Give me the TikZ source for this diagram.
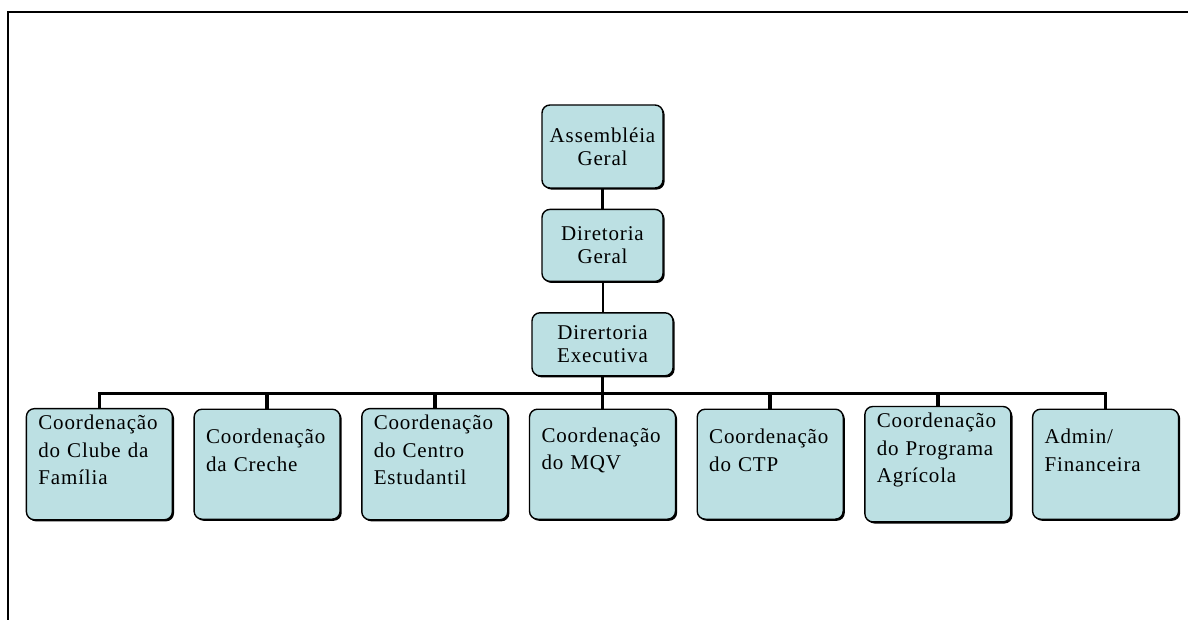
\documentclass[tikz,border=0pt]{standalone}
\usepackage{fontspec}
\setmainfont{Liberation Serif}[LetterSpace=4]
\usetikzlibrary{positioning, shadows}
\definecolor{boxfill}{RGB}{188,224,227}

\begin{document}
\begin{tikzpicture}[font=\fontsize{10.5pt}{11.5pt}\selectfont, node distance=10.15pt]
    \tikzset{orgbox/.style={draw, line width=0.7pt, fill=boxfill, rounded corners=4pt,
        drop shadow={shadow xshift=0.8pt, shadow yshift=-0.8pt, fill=black, opacity=1}},
      headbox/.style={orgbox, align=center, minimum width=60.5pt, inner xsep=2pt},
      unitbox/.style={orgbox, text width=61pt, align=left, inner xsep=6pt, minimum height=55pt,
        font=\fontsize{10.5pt}{13.75pt}\selectfont, execute at end node={\par\vspace*{14pt}}},
      link/.style={line width=1.8pt}}
    \useasboundingbox (0,0) rectangle (594pt,-310pt);
    \draw[line width=1pt] (4pt,-310pt) -- (4pt,-6pt) -- (594pt,-6pt);
    % top of the chart
    \node[headbox, minimum height=41.5pt] (assembleia) at (301.25pt,-73.25pt) {Assembléia\\Geral};
    \node[headbox, below=10pt of assembleia, minimum height=36pt] (diretoria) {Diretoria\\Geral};
    \node[headbox, below=15pt of diretoria, minimum width=70.5pt, minimum height=31.5pt] (executiva)
      {Dirertoria\\Executiva};
    % one row of coordinations
    \node[unitbox, below=16pt of executiva] (mqv) {Coordenação\\do MQV};
    \node[unitbox, left=of mqv] (centro) {Coordenação\\do Centro\\Estudantil};
    \node[unitbox, left=of centro] (creche) {Coordenação\\da Creche};
    \node[unitbox, left=of creche] (familia) {Coordenação\\do Clube da\\Família};
    \node[unitbox, right=of mqv] (ctp) {Coordenação\\do CTP};
    \node[unitbox, right=of ctp] (agricola) {Coordenação\\do Programa\\Agrícola};
    \node[unitbox, right=of agricola] (admin) {Admin/\\Financeira};
    % connectors
    \draw[link] (assembleia) -- (diretoria);
    \draw[link, line width=1pt] (diretoria) -- (executiva);
    \path (executiva.south) -- (mqv.north) coordinate[pos=0.53] (bus);
    \draw[link] (executiva) -- (bus);
    \foreach \n in {familia, creche, centro, mqv, ctp, agricola, admin}
      \draw[link] (bus) -| (\n);
\end{tikzpicture}
\end{document}
